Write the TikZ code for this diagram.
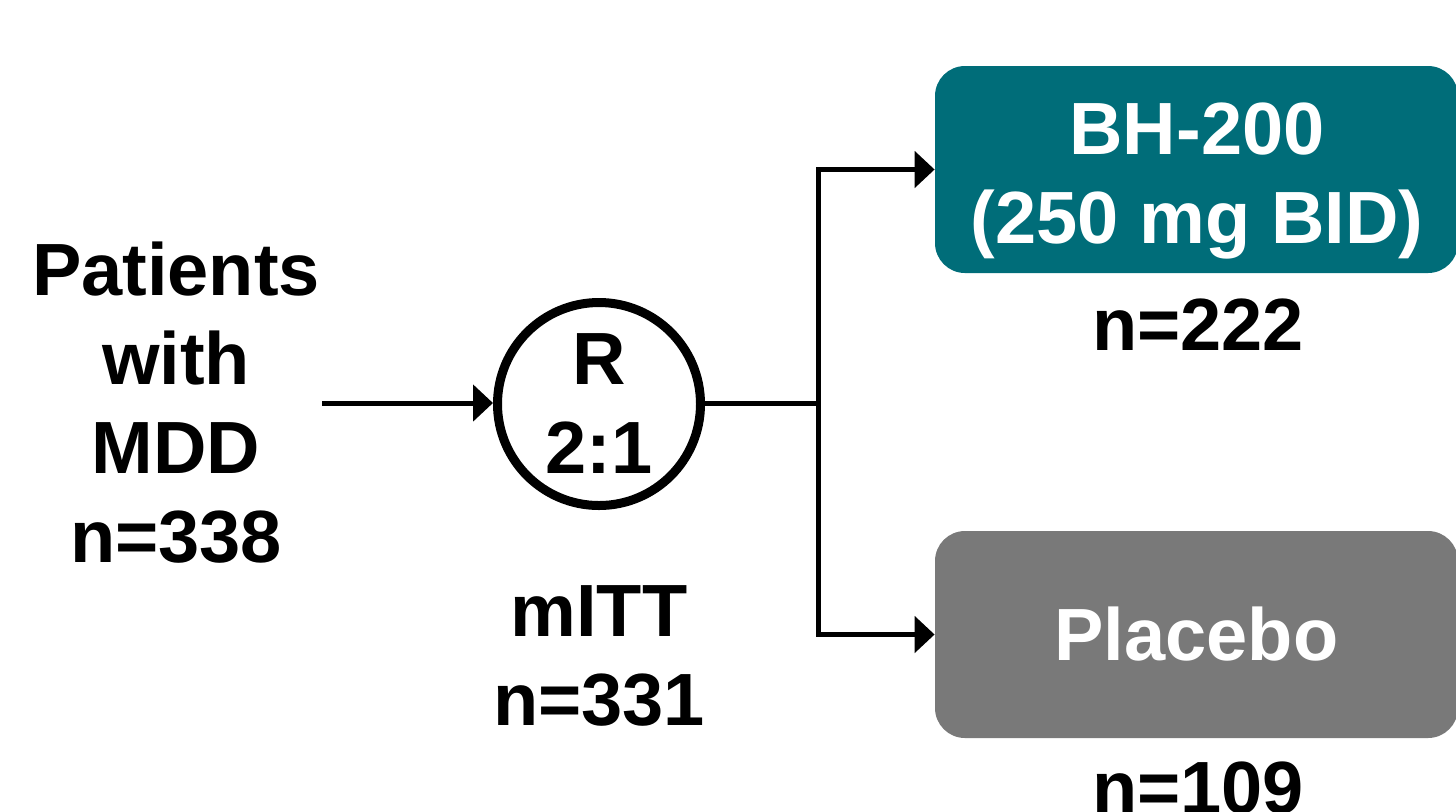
\documentclass[tikz,border=0pt]{standalone}
\usepackage{fontspec}
\setmainfont{Liberation Sans}
\usetikzlibrary{arrows.meta}
\definecolor{tealbox}{HTML}{006D79}
\definecolor{graybox}{HTML}{797979}
\tikzset{
  txt/.style={font=\fontsize{37}{44.5}\selectfont\bfseries, align=center, inner sep=0pt},
  armbox/.style={rounded corners=15pt, minimum width=261.5pt, minimum height=103.5pt, inner sep=0pt, draw=none},
  conn/.style={line width=2.5pt},
  arr/.style={line width=2.5pt, -{Triangle[length=10pt,width=18pt]}},
}
\begin{document}
\begin{tikzpicture}[x=0.5pt,y=-0.5pt]
\useasboundingbox (0,0) rectangle (1456,811);
% left text
\node[txt] (pat) at (176,402.5) {Patients\\with\\MDD\\n=338};
% randomisation circle
\node[txt, circle, draw, line width=4.5pt, minimum size=101.5pt] (rc) at (599,404) {R\\2:1};
\node[txt] (mitt) at (599,655.5) {mITT\\n=331};
% arm boxes
\node[armbox, fill=tealbox] (bh) at (1196.5,169.5) {};
\node[txt, text=white] (bht) at (1197,181) {BH-200\\(250 mg BID)};
\node[txt, anchor=base] (n222) at (1198,350) {n=222};
\node[armbox, fill=graybox, txt, text=white] (pl) at (1196.5,634.5) {Placebo};
\node[txt, anchor=base] (n109) at (1198,813) {n=109};
% connectors
\coordinate (start) at (322,403);
\coordinate (j) at (818,403);
\draw[arr] (start) -- (start -| rc.west);
\draw[conn] (rc.east |- j) -- (j);
\draw[arr] (j) |- (bh.west);
\draw[arr] (j) |- (pl.west);
\end{tikzpicture}
\end{document}
